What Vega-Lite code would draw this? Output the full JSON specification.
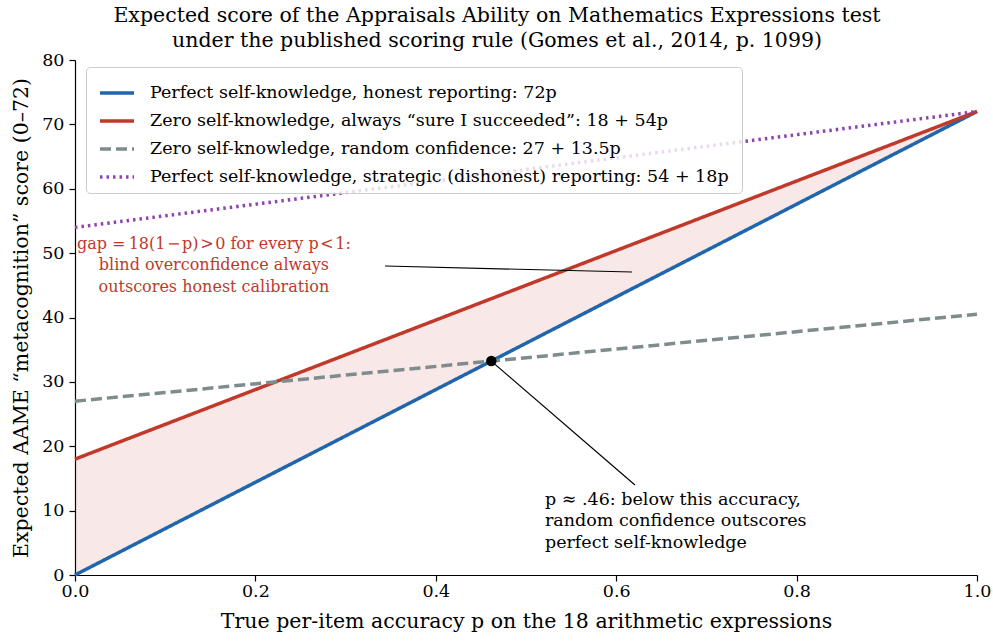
{
  "$schema": "https://vega.github.io/schema/vega-lite/v6.json",
  "width": 902,
  "height": 515,
  "autosize": {"type": "none"},
  "padding": {"left": 75, "top": 60, "right": 16, "bottom": 66},
  "background": "white",
  "config": {
    "font": "DejaVu Serif",
    "view": {"stroke": null},
    "axis": {
      "grid": false,
      "domainColor": "black",
      "tickColor": "black",
      "labelColor": "black",
      "titleColor": "black",
      "labelFontSize": 17.5,
      "titleFontSize": 20.5,
      "titleFontWeight": "normal",
      "tickSize": 6,
      "domainWidth": 1.2,
      "tickWidth": 1.2,
      "labelFlush": false,
      "labelFont": "DejaVu Serif",
      "titleFont": "DejaVu Serif"
    }
  },
  "title": {
    "text": [
      "Expected score of the Appraisals Ability on Mathematics Expressions test",
      "under the published scoring rule (Gomes et al., 2014, p. 1099)"
    ],
    "fontSize": 20.5,
    "fontWeight": "normal",
    "font": "DejaVu Serif",
    "lineHeight": 25,
    "anchor": "middle",
    "offset": 0,
    "dx": -29,
    "color": "black"
  },
  "datasets": {
    "lines": [
      {"p": 0, "y": 0, "series": "Perfect self-knowledge, honest reporting:  72p"},
      {"p": 1, "y": 72, "series": "Perfect self-knowledge, honest reporting:  72p"},
      {"p": 0, "y": 18, "series": "Zero self-knowledge, always “sure I succeeded”:  18 + 54p"},
      {"p": 1, "y": 72, "series": "Zero self-knowledge, always “sure I succeeded”:  18 + 54p"},
      {"p": 0, "y": 27, "series": "Zero self-knowledge, random confidence:  27 + 13.5p"},
      {"p": 1, "y": 40.5, "series": "Zero self-knowledge, random confidence:  27 + 13.5p"},
      {"p": 0, "y": 54, "series": "Perfect self-knowledge, strategic (dishonest) reporting:  54 + 18p"},
      {"p": 1, "y": 72, "series": "Perfect self-knowledge, strategic (dishonest) reporting:  54 + 18p"}
    ],
    "shade": [
      {"p": 0, "y": 0, "y2": 18},
      {"p": 1, "y": 72, "y2": 72}
    ],
    "rules": [
      {"p": 0.3437, "y": 48.0, "p2": 0.6175, "y2": 47.07},
      {"p": 0.4615, "y": 33.23, "p2": 0.6208, "y2": 13.98}
    ],
    "cross": [
      {"p": 0.461538, "y": 33.2308}
    ],
    "redtext": [
      {"p": 0.154, "y": 51.42, "label": "gap =\u200918(1\u200a−\u200ap)\u200a>\u200a0 for every p\u200a<\u200a1:\nblind overconfidence always\noutscores honest calibration"}
    ],
    "blacktext": [
      {"p": 0.521, "y": 13.05, "label": "p ≈ .46: below this accuracy,\nrandom confidence outscores\nperfect self-knowledge"}
    ]
  },
  "encoding": {
    "x": {
      "field": "p",
      "type": "quantitative",
      "scale": {"domain": [0, 1], "nice": false, "zero": false},
      "axis": {
        "title": "True per-item accuracy p on the 18 arithmetic expressions",
        "values": [0, 0.2, 0.4, 0.6, 0.8, 1.0],
        "format": ".1f",
        "labelPadding": 1,
        "titlePadding": 12
      }
    },
    "y": {
      "field": "y",
      "type": "quantitative",
      "scale": {"domain": [0, 80], "nice": false},
      "axis": {
        "title": "Expected AAME “metacognition” score (0–72)",
        "values": [0, 10, 20, 30, 40, 50, 60, 70, 80],
        "labelPadding": 5,
        "titlePadding": 10
      }
    }
  },
  "layer": [
    {
      "data": {"name": "shade"},
      "mark": {"type": "area", "color": "#c0392b", "opacity": 0.11},
      "encoding": {"y2": {"field": "y2"}}
    },
    {
      "data": {"name": "lines"},
      "mark": {"type": "line"},
      "encoding": {
        "color": {
          "field": "series",
          "type": "nominal",
          "scale": {
            "domain": [
              "Perfect self-knowledge, honest reporting:  72p",
              "Zero self-knowledge, always “sure I succeeded”:  18 + 54p",
              "Zero self-knowledge, random confidence:  27 + 13.5p",
              "Perfect self-knowledge, strategic (dishonest) reporting:  54 + 18p"
            ],
            "range": ["#2166ac", "#c0392b", "#7f8c8d", "#8e44ad"]
          },
          "legend": {
            "title": null,
            "orient": "none",
            "legendX": 11,
            "legendY": 7,
            "labelFontSize": 17.5,
            "labelFont": "DejaVu Serif",
            "labelColor": "black",
            "symbolType": "stroke",
            "symbolSize": 1156,
            "symbolStrokeWidth": 3.5,
            "symbolOffset": 5,
            "labelOffset": 14,
            "rowPadding": -1,
            "padding": 7,
            "fillColor": "rgba(255,255,255,0.8)",
            "strokeColor": "#cccccc",
            "cornerRadius": 4,
            "labelLimit": 800
          }
        },
        "strokeDash": {
          "field": "series",
          "type": "nominal",
          "scale": {
            "domain": [
              "Perfect self-knowledge, honest reporting:  72p",
              "Zero self-knowledge, always “sure I succeeded”:  18 + 54p",
              "Zero self-knowledge, random confidence:  27 + 13.5p",
              "Perfect self-knowledge, strategic (dishonest) reporting:  54 + 18p"
            ],
            "range": [[1, 0], [1, 0], [11, 5], [2.5, 4]]
          },
          "legend": {
            "title": null,
            "orient": "none",
            "legendX": 11,
            "legendY": 7,
            "labelFontSize": 17.5,
            "labelFont": "DejaVu Serif",
            "labelColor": "black",
            "symbolType": "stroke",
            "symbolSize": 1156,
            "symbolStrokeWidth": 3.5,
            "symbolOffset": 5,
            "labelOffset": 14,
            "rowPadding": -1,
            "padding": 7,
            "fillColor": "rgba(255,255,255,0.8)",
            "strokeColor": "#cccccc",
            "cornerRadius": 4,
            "labelLimit": 800
          }
        },
        "strokeWidth": {
          "field": "series",
          "type": "nominal",
          "scale": {
            "domain": [
              "Perfect self-knowledge, honest reporting:  72p",
              "Zero self-knowledge, always “sure I succeeded”:  18 + 54p",
              "Zero self-knowledge, random confidence:  27 + 13.5p",
              "Perfect self-knowledge, strategic (dishonest) reporting:  54 + 18p"
            ],
            "range": [3.5, 3.5, 3.5, 2.5]
          },
          "legend": null
        }
      }
    },
    {
      "data": {"name": "rules"},
      "mark": {"type": "rule", "color": "black", "strokeWidth": 1.2},
      "encoding": {"x2": {"field": "p2"}, "y2": {"field": "y2"}}
    },
    {
      "data": {"name": "cross"},
      "mark": {"type": "point", "filled": true, "color": "black", "size": 110, "opacity": 1}
    },
    {
      "data": {"name": "redtext"},
      "mark": {"type": "text", "color": "#c0392b", "fontSize": 16, "font": "DejaVu Serif", "align": "center", "baseline": "middle", "lineBreak": "\n", "lineHeight": 21.5},
      "encoding": {"text": {"field": "label"}}
    },
    {
      "data": {"name": "blacktext"},
      "mark": {"type": "text", "color": "black", "fontSize": 17.5, "font": "DejaVu Serif", "align": "left", "baseline": "top", "lineBreak": "\n", "lineHeight": 21.5},
      "encoding": {"text": {"field": "label"}}
    }
  ]
}
